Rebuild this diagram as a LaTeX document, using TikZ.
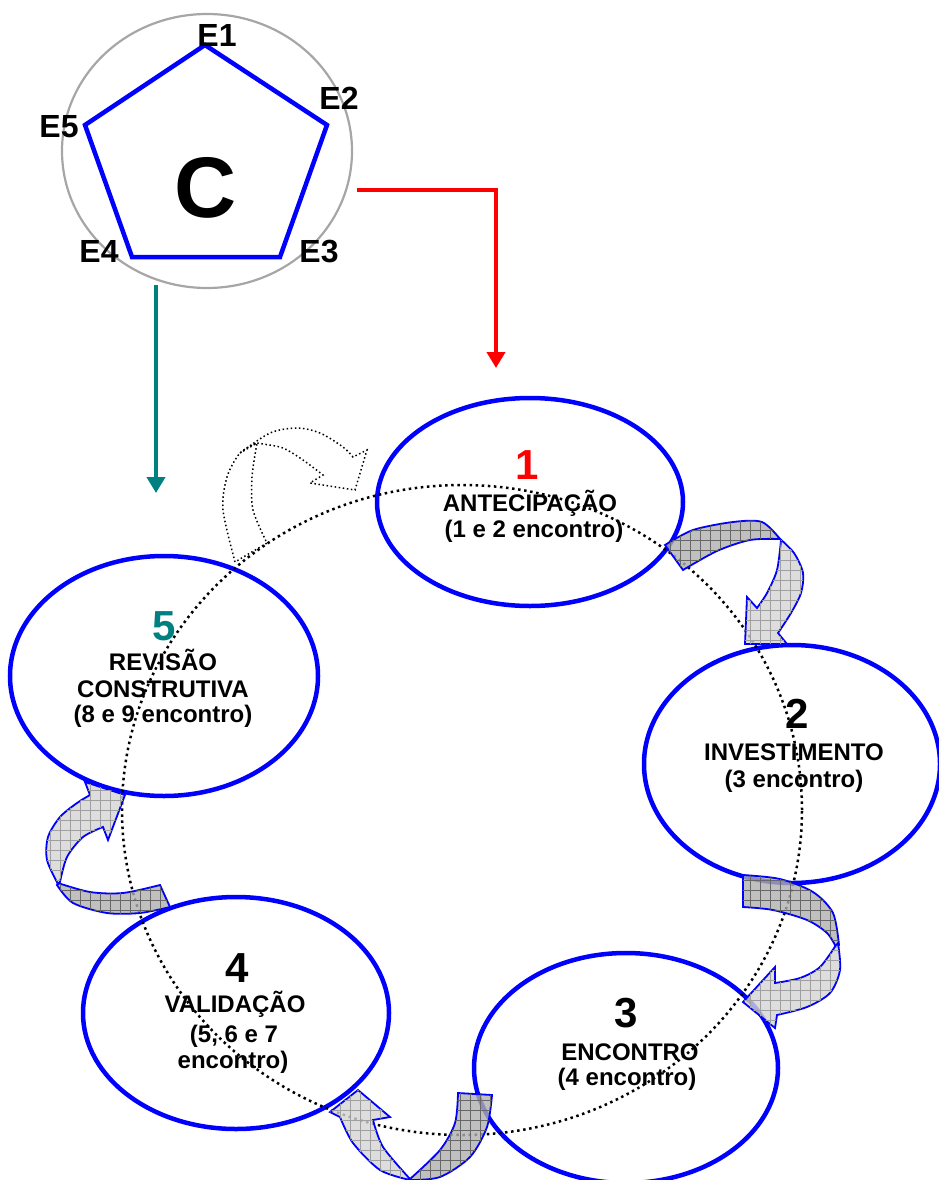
\documentclass[tikz,border=0pt]{standalone}
\usepackage{fontspec}
\setmainfont{Liberation Sans}
\usetikzlibrary{arrows.meta,patterns.meta,shapes.geometric}
\definecolor{pblue}{RGB}{0,0,255}
\definecolor{pred}{RGB}{255,0,0}
\definecolor{pteal}{RGB}{0,128,128}
\begin{document}
\begin{tikzpicture}[x=1pt,y=-1pt,
  stage/.style={draw=pblue, line width=4.5pt, shape=ellipse, inner sep=0pt},
  lbl/.style={font=\fontsize{24}{26}\selectfont\bfseries, anchor=base, inner sep=0pt},
  num/.style={font=\fontsize{42}{42}\selectfont\bfseries, anchor=base, inner sep=0pt},
  elbl/.style={font=\fontsize{32}{32}\selectfont\bfseries, anchor=base, inner sep=0pt},
  backpart/.style={draw=pblue, line width=1.8pt, fill=gray!62, fill opacity=0.8,
     postaction={pattern={Hatch[distance=10pt,line width=0.5pt]}, pattern color=gray!80!black}},
  frontpart/.style={draw=pblue, line width=1.8pt, fill=gray!33, fill opacity=0.8,
     postaction={pattern={Hatch[distance=10pt,line width=0.5pt]}, pattern color=gray!75}},
  ghost/.style={draw=black, line width=1.5pt, dash pattern=on 1.5pt off 2.6pt},
  bigloop/.style={draw=black, line width=2.5pt, dash pattern=on 2.5pt off 3.6pt},
  flow/.style={line width=4pt, -{Triangle[width=18pt,length=16pt]}}
]
\useasboundingbox (0,0) rectangle (938,1180);

% ---- pentagon group ----
\node[draw=gray!70, line width=2.2pt, shape=ellipse, minimum width=290pt, minimum height=274pt, inner sep=0pt] (cyc) at (207,151) {};
\coordinate (v1) at (205,45);
\coordinate (v2) at (327,125);
\coordinate (v3) at (280,257);
\coordinate (v4) at (132,257);
\coordinate (v5) at (85,125);
\draw[pblue, line width=4.5pt] (v1) -- (v2) -- (v3) -- (v4) -- (v5) -- cycle;
\node[font=\fontsize{86}{86}\selectfont\bfseries, anchor=base, inner sep=0pt] (cc) at (206,217) {C};
\node[elbl] (e1) at (217,47) {E1};
\node[elbl] (e2) at (339,110) {E2};
\node[elbl] (e3) at (319,262) {E3};
\node[elbl] (e4) at (99,262) {E4};
\node[elbl] (e5) at (59,137) {E5};

% ---- connectors ----
\coordinate (redstart) at (357,190);
\coordinate (redend) at (496,368);
\draw[flow, pred] (redstart) -| (redend);
\coordinate (tealstart) at (156,285);
\coordinate (tealend) at (156,493);
\draw[flow, pteal] (tealstart) -- (tealend);

% ---- stages ----
\node[stage, minimum width=306pt, minimum height=208pt] (s1) at (530,502) {};
\node[stage, minimum width=296pt, minimum height=238pt] (s2) at (792,764) {};
\node[stage, minimum width=304pt, minimum height=230pt] (s3) at (626,1068) {};
\node[stage, minimum width=306pt, minimum height=232pt] (s4) at (236,1013) {};
\node[stage, minimum width=308pt, minimum height=240pt] (s5) at (164,676) {};

% big dotted cycle
\draw[bigloop] (462,810) ellipse [x radius=340pt, y radius=325pt];

% ---- texts ----
\node[num, text=pred] (n1) at (527,479) {1};
\node[lbl] (t1a) at (530,511) {ANTECIPAÇÃO};
\node[lbl] (t1b) at (534,537) {(1 e 2 encontro)};
\node[num] (n2) at (797,728) {2};
\node[lbl] (t2a) at (794,760) {INVESTIMENTO};
\node[lbl] (t2b) at (794,787) {(3 encontro)};
\node[num] (n3) at (626,1027) {3};
\node[lbl] (t3a) at (630,1060) {ENCONTRO};
\node[lbl] (t3b) at (627,1085) {(4 encontro)};
\node[num] (n4) at (237,982) {4};
\node[lbl] (t4a) at (235,1012) {VALIDAÇÃO};
\node[lbl] (t4b) at (234,1042) {(5, 6 e 7};
\node[lbl] (t4c) at (233,1068) {encontro)};
\node[num, text=pteal] (n5) at (164,640) {5};
\node[lbl] (t5a) at (163,670) {REVISÃO};
\node[lbl] (t5b) at (163,697) {CONSTRUTIVA};
\node[lbl] (t5c) at (163,722) {(8 e 9 encontro)};

% ---- curved arrows ----
% 1 -> 2
\path[backpart] plot[smooth] coordinates {(665,545) (693,530) (733,522) (762,522) (780,539)}
   -- plot[smooth] coordinates {(780,539) (750,540) (717,551) (683,570)} -- cycle;
\path[frontpart] plot[smooth] coordinates {(778,537) (794,553) (803,573) (801,593) (791,613) (778,633)}
   -- (787,644) -- (745,644) -- (747,597) -- (757,608)
   -- plot[smooth] coordinates {(757,608) (767,593) (777,570) (781,540)} -- cycle;
% 2 -> 3
\path[backpart] plot[smooth] coordinates {(743,875) (780,879) (813,892) (833,913) (839,945)}
   -- plot[smooth] coordinates {(836,947) (827,933) (807,920) (773,910) (743,907)} -- cycle;
\path[frontpart] plot[smooth] coordinates {(838,943) (840,970) (830,993) (807,1007) (777,1015)}
   -- (775,1028) -- (743,1002) -- (775,967) -- (775,983)
   -- plot[smooth] coordinates {(775,983) (800,978) (820,967) (836,945)} -- cycle;
% 3 -> 4
\path[backpart] plot[smooth] coordinates {(492,1095) (487,1127) (470,1157) (440,1177) (410,1180)}
   -- plot[smooth] coordinates {(410,1179) (440,1150) (455,1123) (458,1093)} -- cycle;
\path[frontpart] plot[smooth] coordinates {(410,1180) (380,1170) (353,1143) (340,1117)}
   -- (330,1112) -- (358,1090) -- (390,1117) -- (373,1120)
   -- plot[smooth] coordinates {(373,1120) (383,1147) (410,1179)} -- cycle;
% 4 -> 5
\path[backpart] plot[smooth] coordinates {(160,885) (123,893) (90,892) (58,883)}
   -- plot[smooth] coordinates {(57,885) (73,903) (107,913) (140,913) (170,907)} -- cycle;
\path[frontpart] plot[smooth] coordinates {(58,884) (47,860) (48,837) (60,817) (77,803) (90,795)}
   -- (85,782) -- (125,795) -- (108,840) -- (103,827)
   -- plot[smooth] coordinates {(103,827) (83,837) (67,857) (60,882)} -- cycle;
% 5 -> 1 (dotted outline)
\path[ghost] plot[smooth] coordinates {(235,562) (223,510) (227,477) (240,453) (257,443)}
   -- plot[smooth] coordinates {(257,443) (252,477) (253,510) (267,543)} -- cycle;
\path[ghost] plot[smooth] coordinates {(240,453) (270,433) (297,428) (320,433) (343,447) (353,457)}
   -- (367,450) -- (355,490) -- (310,483) -- (323,475)
   -- plot[smooth] coordinates {(323,475) (303,460) (283,448) (263,444) (257,443)} -- cycle;
\end{tikzpicture}
\end{document}
